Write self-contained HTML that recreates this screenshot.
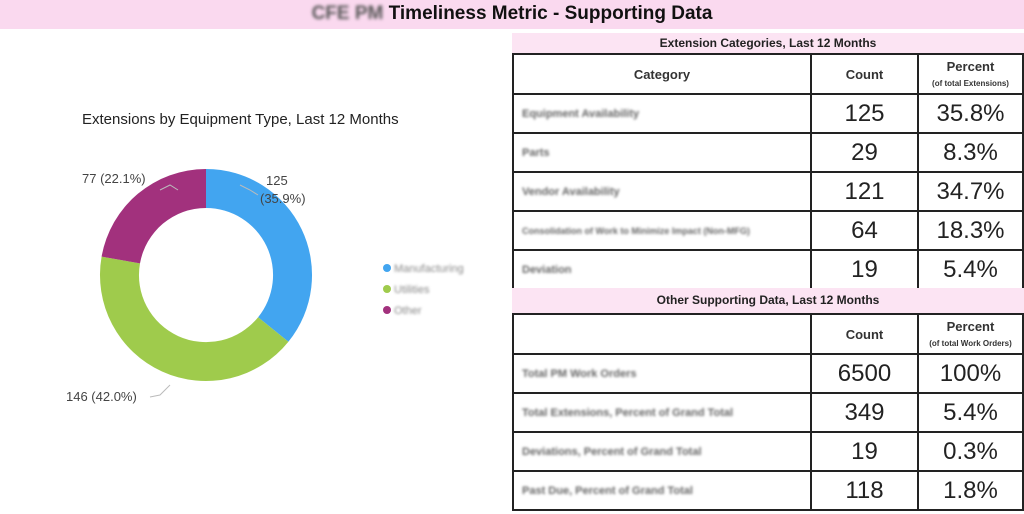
<!DOCTYPE html>
<html><head><style>
body{margin:0;width:1024px;height:514px;background:#fff;font-family:"Liberation Sans",sans-serif;position:relative;overflow:hidden}
.abs{position:absolute}
.blur{filter:blur(1.6px)}
table{border-collapse:collapse;position:absolute;left:512px;width:510px;table-layout:fixed}
td{border:2px solid #222;padding:0 0 0 8px;font-size:24px;color:#222}
td.n{text-align:center;padding:0}
th{border:2px solid #222;font-size:13px;font-weight:bold;color:#333}
.cat{font-size:11px;font-weight:bold;color:#666;filter:blur(1.3px)}
.band{position:absolute;left:512px;width:512px;background:#fce4f3;text-align:center;font-size:12px;font-weight:bold;color:#222}
small{font-size:8px;font-weight:bold}
</style></head><body>
<div class="abs" style="left:0;top:0;width:1024px;height:29px;background:#fad9ef"></div>
<div class="abs" style="left:0;top:3px;width:1024px;text-align:center;font-size:19px;font-weight:bold;color:#111"><span class="blur" style="color:#555">CFE PM</span> Timeliness Metric - Supporting Data</div>
<div class="band" style="top:33px;height:20px;line-height:20px">Extension Categories, Last 12 Months</div>
<table style="top:53px">
<colgroup><col style="width:298px"><col style="width:107px"><col style="width:105px"></colgroup>
<tr style="height:40px"><th>Category</th><th>Count</th><th>Percent<br><small>(of total Extensions)</small></th></tr>
<tr style="height:39px"><td class="cat">Equipment Availability</td><td class="n">125</td><td class="n">35.8%</td></tr>
<tr style="height:39px"><td class="cat">Parts</td><td class="n">29</td><td class="n">8.3%</td></tr>
<tr style="height:39px"><td class="cat">Vendor Availability</td><td class="n">121</td><td class="n">34.7%</td></tr>
<tr style="height:39px"><td class="cat" style="font-size:9px">Consolidation of Work to Minimize Impact (Non-MFG)</td><td class="n">64</td><td class="n">18.3%</td></tr>
<tr style="height:39px"><td class="cat">Deviation</td><td class="n">19</td><td class="n">5.4%</td></tr>
</table>
<div class="band" style="top:288px;height:25px;line-height:25px">Other Supporting Data, Last 12 Months</div>
<table style="top:313px">
<colgroup><col style="width:298px"><col style="width:107px"><col style="width:105px"></colgroup>
<tr style="height:40px"><th style="border-left:2px solid #222"></th><th>Count</th><th>Percent<br><small>(of total Work Orders)</small></th></tr>
<tr style="height:39px"><td class="cat">Total PM Work Orders</td><td class="n">6500</td><td class="n">100%</td></tr>
<tr style="height:39px"><td class="cat">Total Extensions, Percent of Grand Total</td><td class="n">349</td><td class="n">5.4%</td></tr>
<tr style="height:39px"><td class="cat">Deviations, Percent of Grand Total</td><td class="n">19</td><td class="n">0.3%</td></tr>
<tr style="height:39px"><td class="cat">Past Due, Percent of Grand Total</td><td class="n">118</td><td class="n">1.8%</td></tr>
</table>
<div class="abs" style="left:82px;top:111px;font-size:15px;color:#222">Extensions by Equipment Type, Last 12 Months</div>
<svg class="abs" style="left:0;top:0" width="512" height="514">
<g transform="translate(206,275)">
<path d="M0,-106 A106,106 0 0 1 82.4,66.7 L52.1,42.2 A67,67 0 0 0 0,-67 Z" fill="#42a5f0"/>
<path d="M82.4,66.7 A106,106 0 0 1 -104.4,-18.4 L-66,-11.6 A67,67 0 0 0 52.1,42.2 Z" fill="#9fcb4c"/>
<path d="M-104.4,-18.4 A106,106 0 0 1 0,-106 L0,-67 A67,67 0 0 0 -66,-11.6 Z" fill="#a2317d"/>
</g>
<polyline points="258,195 250,190 240,185" fill="none" stroke="#bbb"/>
<polyline points="160,190 170,185 178,190" fill="none" stroke="#bbb"/>
<polyline points="150,397 160,395 170,385" fill="none" stroke="#bbb"/>
<text x="266" y="185" font-size="13" fill="#444" font-family="Liberation Sans">125</text>
<text x="260" y="203" font-size="13" fill="#444" font-family="Liberation Sans">(35.9%)</text>
<text x="82" y="183" font-size="13" fill="#444" font-family="Liberation Sans">77 (22.1%)</text>
<text x="66" y="401" font-size="13" fill="#444" font-family="Liberation Sans">146 (42.0%)</text>
<circle cx="387" cy="268" r="4" fill="#42a5f0"/><circle cx="387" cy="289" r="4" fill="#9fcb4c"/><circle cx="387" cy="310" r="4" fill="#a2317d"/>
<g font-size="11" fill="#888" font-family="Liberation Sans" style="filter:blur(1.2px)"><text x="394" y="272">Manufacturing</text><text x="394" y="293">Utilities</text><text x="394" y="314">Other</text></g>
</svg>
</body></html>
